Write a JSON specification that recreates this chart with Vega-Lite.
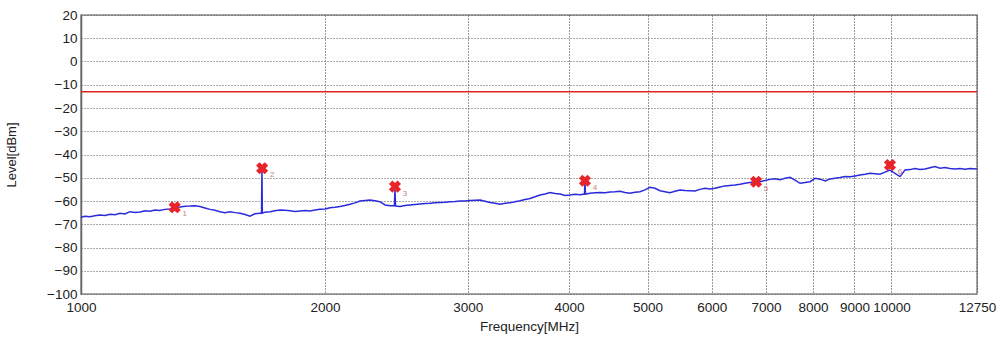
{
  "$schema": "https://vega.github.io/schema/vega-lite/v6.json",
  "autosize": {"type": "none"},
  "width": 896,
  "height": 279,
  "padding": {"left": 81, "top": 15, "right": 24, "bottom": 48},
  "background": "white",
  "config": {
    "view": {"stroke": "#8a8a8a", "strokeWidth": 1.5},
    "font": "Liberation Sans"
  },
  "datasets": {
    "trace": [
      {"f": 1000, "level": -67.0}, {"f": 1011, "level": -66.6}, {"f": 1026, "level": -66.8}, {"f": 1040, "level": -66.3},
      {"f": 1055, "level": -66.0}, {"f": 1071, "level": -66.2}, {"f": 1086, "level": -65.7}, {"f": 1102, "level": -65.9},
      {"f": 1117, "level": -65.3}, {"f": 1133, "level": -65.6}, {"f": 1149, "level": -64.6}, {"f": 1166, "level": -64.9},
      {"f": 1183, "level": -64.7}, {"f": 1199, "level": -64.2}, {"f": 1217, "level": -64.4}, {"f": 1234, "level": -63.9},
      {"f": 1251, "level": -64.1}, {"f": 1269, "level": -63.6}, {"f": 1287, "level": -63.4}, {"f": 1310, "level": -62.8},
      {"f": 1325, "level": -62.6}, {"f": 1344, "level": -62.3}, {"f": 1363, "level": -62.2}, {"f": 1382, "level": -62.0},
      {"f": 1402, "level": -62.4}, {"f": 1422, "level": -63.0}, {"f": 1443, "level": -63.6}, {"f": 1463, "level": -64.0},
      {"f": 1484, "level": -64.6}, {"f": 1505, "level": -65.0}, {"f": 1527, "level": -64.6}, {"f": 1549, "level": -65.0},
      {"f": 1571, "level": -65.3}, {"f": 1594, "level": -65.8}, {"f": 1616, "level": -66.5}, {"f": 1639, "level": -65.5},
      {"f": 1663, "level": -65.3}, {"f": 1670, "level": -65.3}, {"f": 1672, "level": -46.2}, {"f": 1674, "level": -65.2},
      {"f": 1687, "level": -64.8}, {"f": 1711, "level": -64.6}, {"f": 1735, "level": -64.2}, {"f": 1760, "level": -63.9},
      {"f": 1785, "level": -64.0}, {"f": 1811, "level": -64.2}, {"f": 1837, "level": -64.5}, {"f": 1863, "level": -64.3},
      {"f": 1890, "level": -64.1}, {"f": 1917, "level": -64.3}, {"f": 1944, "level": -63.9}, {"f": 1972, "level": -63.6},
      {"f": 2000, "level": -63.4}, {"f": 2029, "level": -62.9}, {"f": 2058, "level": -62.7}, {"f": 2087, "level": -62.4},
      {"f": 2117, "level": -61.9}, {"f": 2147, "level": -61.4}, {"f": 2178, "level": -60.8}, {"f": 2209, "level": -60.0},
      {"f": 2241, "level": -59.8}, {"f": 2273, "level": -59.6}, {"f": 2305, "level": -59.9}, {"f": 2338, "level": -60.3},
      {"f": 2372, "level": -61.7}, {"f": 2406, "level": -62.0}, {"f": 2436, "level": -62.0}, {"f": 2440, "level": -55.0},
      {"f": 2444, "level": -62.2}, {"f": 2475, "level": -62.4}, {"f": 2510, "level": -61.9}, {"f": 2546, "level": -61.7},
      {"f": 2583, "level": -61.5}, {"f": 2620, "level": -61.3}, {"f": 2658, "level": -61.1}, {"f": 2696, "level": -61.0},
      {"f": 2734, "level": -60.8}, {"f": 2773, "level": -60.6}, {"f": 2813, "level": -60.5}, {"f": 2853, "level": -60.3},
      {"f": 2894, "level": -60.2}, {"f": 2936, "level": -60.0}, {"f": 2978, "level": -60.0}, {"f": 3020, "level": -59.8},
      {"f": 3064, "level": -59.7}, {"f": 3107, "level": -59.6}, {"f": 3152, "level": -60.1}, {"f": 3197, "level": -60.6},
      {"f": 3243, "level": -61.0}, {"f": 3289, "level": -61.4}, {"f": 3336, "level": -61.0}, {"f": 3384, "level": -60.8},
      {"f": 3432, "level": -60.3}, {"f": 3481, "level": -59.9}, {"f": 3531, "level": -59.4}, {"f": 3581, "level": -58.9},
      {"f": 3633, "level": -58.2}, {"f": 3685, "level": -57.4}, {"f": 3737, "level": -57.0}, {"f": 3791, "level": -56.4},
      {"f": 3845, "level": -56.8}, {"f": 3900, "level": -57.0}, {"f": 3956, "level": -57.6}, {"f": 4012, "level": -57.4},
      {"f": 4069, "level": -57.1}, {"f": 4128, "level": -57.3}, {"f": 4180, "level": -57.0}, {"f": 4186, "level": -52.3},
      {"f": 4192, "level": -57.0}, {"f": 4246, "level": -56.7}, {"f": 4307, "level": -56.5}, {"f": 4369, "level": -56.3},
      {"f": 4431, "level": -56.5}, {"f": 4494, "level": -56.1}, {"f": 4559, "level": -56.0}, {"f": 4624, "level": -55.8},
      {"f": 4690, "level": -56.3}, {"f": 4757, "level": -56.7}, {"f": 4825, "level": -56.2}, {"f": 4894, "level": -56.0},
      {"f": 4964, "level": -55.2}, {"f": 5035, "level": -54.1}, {"f": 5107, "level": -54.5}, {"f": 5180, "level": -55.6},
      {"f": 5254, "level": -56.0}, {"f": 5329, "level": -56.4}, {"f": 5405, "level": -55.8}, {"f": 5483, "level": -55.3},
      {"f": 5561, "level": -55.5}, {"f": 5641, "level": -55.6}, {"f": 5722, "level": -55.7}, {"f": 5803, "level": -55.0},
      {"f": 5887, "level": -54.5}, {"f": 5971, "level": -54.8}, {"f": 6056, "level": -54.5}, {"f": 6143, "level": -54.0},
      {"f": 6231, "level": -53.5}, {"f": 6320, "level": -53.3}, {"f": 6411, "level": -53.1}, {"f": 6502, "level": -52.8},
      {"f": 6595, "level": -52.4}, {"f": 6690, "level": -52.0}, {"f": 6786, "level": -51.7}, {"f": 6883, "level": -51.7},
      {"f": 6982, "level": -51.2}, {"f": 7082, "level": -50.7}, {"f": 7183, "level": -50.4}, {"f": 7286, "level": -50.9},
      {"f": 7391, "level": -50.2}, {"f": 7497, "level": -49.8}, {"f": 7604, "level": -51.0}, {"f": 7713, "level": -52.4},
      {"f": 7824, "level": -52.0}, {"f": 7936, "level": -51.7}, {"f": 8050, "level": -50.2}, {"f": 8165, "level": -50.6},
      {"f": 8282, "level": -51.4}, {"f": 8400, "level": -50.5}, {"f": 8521, "level": -50.2}, {"f": 8643, "level": -49.9},
      {"f": 8767, "level": -49.5}, {"f": 8893, "level": -49.6}, {"f": 9016, "level": -49.2}, {"f": 9145, "level": -48.8},
      {"f": 9276, "level": -48.5}, {"f": 9408, "level": -48.1}, {"f": 9542, "level": -48.3}, {"f": 9679, "level": -48.5},
      {"f": 9817, "level": -47.6}, {"f": 9957, "level": -46.7}, {"f": 10100, "level": -48.1}, {"f": 10245, "level": -49.5},
      {"f": 10391, "level": -46.7}, {"f": 10540, "level": -46.5}, {"f": 10690, "level": -46.0}, {"f": 10844, "level": -46.4},
      {"f": 10999, "level": -46.2}, {"f": 11156, "level": -45.7}, {"f": 11316, "level": -45.2}, {"f": 11478, "level": -45.9},
      {"f": 11641, "level": -45.6}, {"f": 11808, "level": -46.0}, {"f": 11977, "level": -46.2}, {"f": 12148, "level": -46.0},
      {"f": 12322, "level": -46.3}, {"f": 12498, "level": -46.0}, {"f": 12750, "level": -46.2}
    ],
    "markers": [
      {"f": 1305, "level": -62.7, "id": "1"},
      {"f": 1673, "level": -45.9, "id": "2"},
      {"f": 2440, "level": -53.8, "id": "3"},
      {"f": 4186, "level": -51.3, "id": "4"},
      {"f": 6806, "level": -51.7, "id": "5"},
      {"f": 9957, "level": -44.5, "id": "6"}
    ],
    "limit": [{"level": -13}]
  },
  "encoding": {
    "x": {
      "field": "f", "type": "quantitative",
      "scale": {"type": "log", "domain": [1000, 12750], "nice": false},
      "axis": {
        "title": "Frequency[MHz]",
        "values": [1000, 2000, 3000, 4000, 5000, 6000, 7000, 8000, 9000, 10000, 12750],
        "format": "d",
        "labelOverlap": false,
        "labelFlush": false,
        "labelFontSize": 13.5,
        "labelColor": "#222",
        "labelPadding": 6,
        "titleFontSize": 13.5,
        "titleFontWeight": "normal",
        "titleColor": "#222",
        "titlePadding": 6,
        "ticks": false,
        "domain": false,
        "gridColor": "#333",
        "gridDash": [1, 2],
        "gridWidth": 1
      }
    },
    "y": {
      "field": "level", "type": "quantitative",
      "scale": {"domain": [-100, 20], "nice": false},
      "axis": {
        "title": "Level[dBm]",
        "values": [-100, -90, -80, -70, -60, -50, -40, -30, -20, -10, 0, 10, 20],
        "labelFontSize": 13.5,
        "labelColor": "#222",
        "labelPadding": 4,
        "titleFontSize": 13,
        "titleFontWeight": "normal",
        "titleColor": "#222",
        "titleX": -63,
        "ticks": false,
        "domainColor": "#666",
        "domainWidth": 1.5,
        "gridColor": "#555",
        "gridDash": [1, 2],
        "gridWidth": 1
      }
    }
  },
  "layer": [
    {
      "data": {"name": "limit"},
      "mark": {"type": "rule", "color": "#e0221e", "strokeWidth": 1.5},
      "encoding": {"x": null, "y": {"field": "level", "type": "quantitative"}}
    },
    {
      "data": {"name": "trace"},
      "mark": {"type": "line", "color": "#2b2bdc", "strokeWidth": 1.5}
    },
    {
      "data": {"name": "markers"},
      "mark": {"type": "point", "shape": "cross", "angle": 45, "filled": true, "size": 150, "color": "#e8232a", "opacity": 1}
    },
    {
      "data": {"name": "markers"},
      "mark": {"type": "text", "dx": 10, "dy": 7, "fontSize": 8, "color": "#c98080"},
      "encoding": {"text": {"field": "id"}}
    }
  ]
}
